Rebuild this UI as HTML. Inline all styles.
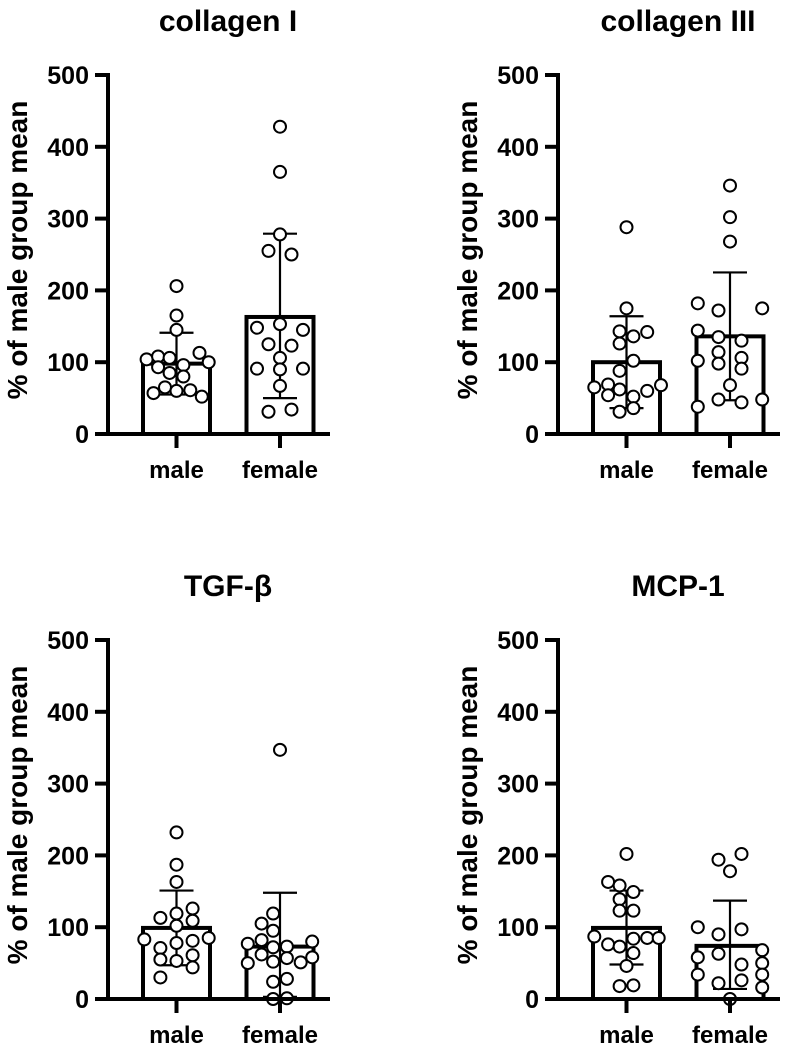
<!DOCTYPE html>
<html><head><meta charset="utf-8"><style>
html,body{margin:0;padding:0;background:#fff}
svg{display:block}
text{font-family:"Liberation Sans",Arial,sans-serif;font-weight:bold;fill:#000}
</style></head><body>
<svg id="fig" width="802" height="1046" viewBox="0 0 802 1046"></svg>
<script>
const categories = ["male","female"];
const titles = ["collagen I","collagen III","TGF-\u03b2","MCP-1"];
const yTicks = [0,100,200,300,400,500];
// bar means [male, female]
const means = [[98,163],[100,136],[99,73],[99,74]];
const errUpper = [[141,279],[164,225],[151,148],[151,137]];
const errLower = [[55,50],[36,47],[47,3],[48,14]];
// individual points: values and horizontal jitter slot
const c1MaleVals = [206,165,145,113,104,108,106,100,96,93,85,80,57,65,60,61,52];
const c1MaleSlot = [0,0,0,1,-1.3,-0.8,-0.3,1.4,0.3,-0.8,-0.3,0.3,-1,-0.5,0,0.6,1.1];
const c1FemVals = [428,365,278,255,250,148,153,145,125,123,106,91,90,91,67,31,34];
const c1FemSlot = [0,0,0,-0.5,0.5,-1,0,1,-0.5,0.5,0,-1,0,1,0,-0.5,0.5];
const c3MaleVals = [288,175,143,136,142,126,102,88,65,69,62,68,54,52,60,31,36];
const c3MaleSlot = [0,0,-0.3,0.3,0.9,-0.3,0.3,-0.3,-1.4,-0.8,-0.3,1.5,-0.8,0.3,0.9,-0.3,0.3];
const c3FemVals = [346,302,268,182,172,175,144,135,130,114,106,102,98,91,68,48,44,48,38];
const c3FemSlot = [0,0,0,-1.4,-0.5,1.4,-1.4,-0.5,0.5,-0.5,0.5,-1.4,-0.5,0.5,0,-0.5,0.5,1.4,-1.4];
const tgMaleVals = [232,187,163,113,119,126,102,109,83,85,71,78,81,55,53,61,44,30];
const tgMaleSlot = [0,0,0,-0.7,0,0.7,0,0.7,-1.4,1.4,-0.7,0,0.7,-0.7,0,0.7,0.7,-0.7];
const tgFemVals = [347,119,105,95,77,82,72,73,80,62,57,50,52,51,58,24,28,0,1];
const tgFemSlot = [0,-0.3,-0.8,-0.3,-1.4,-0.8,-0.3,0.3,1.4,-0.8,0.3,-1.4,-0.3,0.9,1.4,-0.3,0.3,-0.3,0.3];
const mcMaleVals = [202,163,158,149,139,123,123,87,84,85,85,76,73,64,46,18,19];
const mcMaleSlot = [0,-0.8,-0.3,0.3,-0.3,-0.3,0.3,-1.4,0.3,0.9,1.4,-0.8,-0.3,0.3,0,-0.3,0.3];
const mcFemVals = [202,194,178,100,97,90,68,58,63,50,48,34,34,22,26,16,0];
const mcFemSlot = [0.5,-0.5,0,-1.4,0.5,-0.5,1.4,-1.4,-0.5,1.4,0.5,-1.4,1.4,-0.5,0.5,1.4,0];
const pointVals = [[c1MaleVals,c1FemVals],[c3MaleVals,c3FemVals],[tgMaleVals,tgFemVals],[mcMaleVals,mcFemVals]];
const pointSlots = [[c1MaleSlot,c1FemSlot],[c3MaleSlot,c3FemSlot],[tgMaleSlot,tgFemSlot],[mcMaleSlot,mcFemSlot]];

const NS="http://www.w3.org/2000/svg";
const svg=document.getElementById('fig');
function mk(tag,attrs,parent){const e=document.createElementNS(NS,tag);for(const k in attrs)e.setAttribute(k,attrs[k]);(parent||svg).appendChild(e);return e;}

const origins=[[0,0],[450,0],[0,565],[450,565]];
titles.forEach((t,p)=>{
  const ox=origins[p][0], oy=origins[p][1];
  const g=mk('g',{});
  
  
  const axX=108+ox, y0=434+oy, y500=75+oy;
  const yS=v=>y0-(v/500)*(y0-y500);
  const xC=[176.5+ox,280+ox];
  const bw=67;
  const tt=mk('text',{x:228+ox,y:31+oy,'font-size':30,'text-anchor':'middle'},g);tt.textContent=t;
  
  
  const yl=mk('text',{x:0,y:0,'font-size':28,'text-anchor':'middle',transform:`translate(${27+ox},${250+oy}) rotate(-90)`},g);
  yl.textContent='% of male group mean';
  
  
  categories.forEach((c,i)=>{
    const b=mk('rect',{x:xC[i]-bw/2,y:yS(means[p][i]),width:bw,height:y0-yS(means[p][i]),fill:'#fff',stroke:'#000','stroke-width':4},g);
    
    
  });
  categories.forEach((c,i)=>{
    const eg=mk('g',{stroke:'#000','stroke-width':2.2},g);
    
    
    mk('line',{x1:xC[i],x2:xC[i],y1:yS(errUpper[p][i]),y2:yS(errLower[p][i])},eg);
    mk('line',{x1:xC[i]-17,x2:xC[i]+17,y1:yS(errUpper[p][i]),y2:yS(errUpper[p][i])},eg);
    mk('line',{x1:xC[i]-17,x2:xC[i]+17,y1:yS(errLower[p][i]),y2:yS(errLower[p][i])},eg);
    const vals=pointVals[p][i], sl=pointSlots[p][i];
    vals.forEach((v,k)=>{
      const cc=mk('circle',{cx:xC[i]+sl[k]*23,cy:yS(v),r:6,fill:'#fff',stroke:'#000','stroke-width':2},g);
      
      
    });
  });
  const ax=mk('g',{stroke:'#000','stroke-width':4},g);
  
  
  mk('line',{x1:axX,x2:axX,y1:y500-2,y2:y0+2},ax);
  mk('line',{x1:axX-2,x2:330+ox,y1:y0,y2:y0},ax);
  yTicks.forEach(v=>{
    mk('line',{x1:axX-13,x2:axX,y1:yS(v),y2:yS(v)},ax);
    const tl=mk('text',{x:axX-19,y:yS(v)+9,'font-size':25,'text-anchor':'end'},g);tl.textContent=v;
    
    
  });
  categories.forEach((c,i)=>{
    mk('line',{x1:xC[i],x2:xC[i],y1:y0,y2:y0+14},ax);
    const xl=mk('text',{x:xC[i],y:y0+44,'font-size':24,'text-anchor':'middle'},g);xl.textContent=c;
    
    
  });
});
</script>
</body></html>
